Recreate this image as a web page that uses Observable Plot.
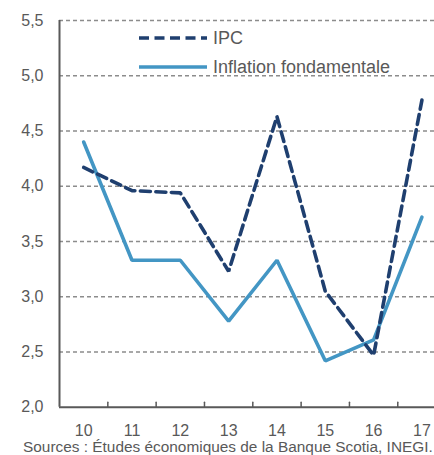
<!DOCTYPE html>
<html>
<head>
<meta charset="utf-8">
<script src="https://cdn.jsdelivr.net/npm/d3@7"></script>
<script src="https://cdn.jsdelivr.net/npm/@observablehq/plot@0.6"></script>
<style>
  html, body { margin: 0; padding: 0; background: #fff; overflow: hidden; }
  #wrap { position: relative; width: 434px; height: 455px; font-family: "Liberation Sans", Arial, sans-serif; }
  #legend { position: absolute; left: 0; top: 0; }
  #caption { position: absolute; left: 23px; top: 439px; font-size: 15.4px; line-height: 15px; color: #595959; white-space: nowrap; }
</style>
</head>
<body>
<div id="wrap">
  <div id="chart"></div>
  <svg id="legend" width="434" height="90"></svg>
  <div id="caption"></div>
</div>
<script>
// Data
const years = [10, 11, 12, 13, 14, 15, 16, 17];
const xLabels = ["10", "11", "12", "13", "14", "15", "16", "17"];
const ipc = [4.17, 3.96, 3.94, 3.23, 4.63, 3.05, 2.47, 4.78];
const core = [4.40, 3.33, 3.33, 2.78, 3.33, 2.42, 2.61, 3.72];
const yTicks = [2.0, 2.5, 3.0, 3.5, 4.0, 4.5, 5.0, 5.5];
const seriesNames = ["IPC", "Inflation fondamentale"];
const captionText = "Sources : Études économiques de la Banque Scotia, INEGI.";

const navy = "#1f3f6f";
const blue = "#4396c4";
const axisGray = "#595959";

const xDomain = [years[0] - 0.5, years[years.length - 1] + 0.5];
const yDomain = [yTicks[0], yTicks[yTicks.length - 1]];
const boundaries = years.slice(1).map(d => d - 0.5);

const ipcData = years.map((y, i) => ({year: y, value: ipc[i]}));
const coreData = years.map((y, i) => ({year: y, value: core[i]}));

const fmt = d => d.toFixed(1).replace(".", ",");
const tickShape = {draw(ctx, l) { ctx.moveTo(0, 0); ctx.lineTo(0, -l); }};

const chart = Plot.plot({
  width: 434,
  height: 455,
  marginLeft: 59,
  marginRight: 0,
  marginTop: 20,
  marginBottom: 48.3,
  style: {fontFamily: '"Liberation Sans", Arial, sans-serif', color: axisGray, background: "#fff"},
  x: {domain: xDomain, range: [59, 445.6]},
  y: {domain: yDomain, range: [406.7, 20]},
  marks: [
    Plot.gridY(yTicks.slice(1), {stroke: "#8c8c8c", strokeOpacity: 1, strokeWidth: 1.4, strokeDasharray: "4,3"}),
    Plot.axisY({ticks: yTicks, tickFormat: fmt, tickSize: 0, tickPadding: 16, fontSize: 16, label: null}),
    Plot.axisX({ticks: years, tickFormat: d => xLabels[years.indexOf(d)], tickSize: 0, tickPadding: 17.5, fontSize: 16, label: null}),
    Plot.vector(boundaries, {x: d => d, y: () => yDomain[0], length: 5, rotate: 0, anchor: "start", shape: tickShape, stroke: axisGray, strokeWidth: 1.5}),
    Plot.ruleX([xDomain[0]], {stroke: axisGray, strokeWidth: 2}),
    Plot.ruleY([yDomain[0]], {stroke: axisGray, strokeWidth: 2}),
    Plot.line(coreData, {x: "year", y: "value", stroke: blue, strokeWidth: 3.6, strokeLinejoin: "miter"}),
    Plot.line(ipcData, {x: "year", y: "value", stroke: navy, strokeWidth: 3.6, strokeDasharray: "10,5.5", strokeLinejoin: "miter"})
  ]
});
document.getElementById("chart").appendChild(chart);

// Legend
const lg = d3.select("#legend");
const items = [
  {name: seriesNames[0], stroke: navy, dash: "10,5.5", y: 38},
  {name: seriesNames[1], stroke: blue, dash: null, y: 67}
];
items.forEach(it => {
  lg.append("line").attr("x1", 139).attr("x2", 207).attr("y1", it.y).attr("y2", it.y)
    .attr("stroke", it.stroke).attr("stroke-width", 3.6).attr("stroke-dasharray", it.dash);
  lg.append("text").attr("x", 213).attr("y", it.y).attr("dy", "0.35em")
    .attr("font-size", 18).attr("fill", axisGray)
    .attr("font-family", '"Liberation Sans", Arial, sans-serif').text(it.name);
});
document.getElementById("caption").textContent = captionText;
</script>
</body>
</html>
